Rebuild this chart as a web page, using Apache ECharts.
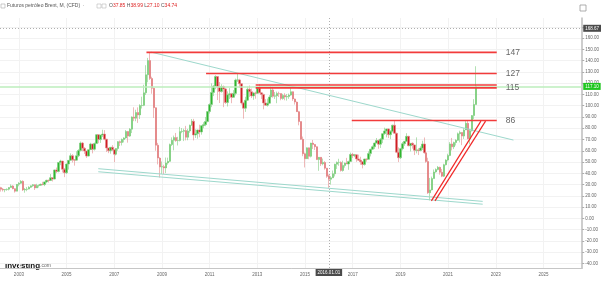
<!DOCTYPE html>
<html><head><meta charset="utf-8">
<script src="https://cdn.jsdelivr.net/npm/echarts@6/dist/echarts.min.js"></script>
<style>html,body{margin:0;padding:0;background:#fff}#c{width:602px;height:282px}</style>
</head><body><div id="c"></div>
<script>
// ---- data (monthly Brent CFD) ----
const months = [
'2002-04','2002-05','2002-06','2002-07','2002-08','2002-09','2002-10','2002-11','2002-12',
'2003-01','2003-02','2003-03','2003-04','2003-05','2003-06','2003-07','2003-08','2003-09','2003-10','2003-11','2003-12',
'2004-01','2004-02','2004-03','2004-04','2004-05','2004-06','2004-07','2004-08','2004-09','2004-10','2004-11','2004-12',
'2005-01','2005-02','2005-03','2005-04','2005-05','2005-06','2005-07','2005-08','2005-09','2005-10','2005-11','2005-12',
'2006-01','2006-02','2006-03','2006-04','2006-05','2006-06','2006-07','2006-08','2006-09','2006-10','2006-11','2006-12',
'2007-01','2007-02','2007-03','2007-04','2007-05','2007-06','2007-07','2007-08','2007-09','2007-10','2007-11','2007-12',
'2008-01','2008-02','2008-03','2008-04','2008-05','2008-06','2008-07','2008-08','2008-09','2008-10','2008-11','2008-12',
'2009-01','2009-02','2009-03','2009-04','2009-05','2009-06','2009-07','2009-08','2009-09','2009-10','2009-11','2009-12',
'2010-01','2010-02','2010-03','2010-04','2010-05','2010-06','2010-07','2010-08','2010-09','2010-10','2010-11','2010-12',
'2011-01','2011-02','2011-03','2011-04','2011-05','2011-06','2011-07','2011-08','2011-09','2011-10','2011-11','2011-12',
'2012-01','2012-02','2012-03','2012-04','2012-05','2012-06','2012-07','2012-08','2012-09','2012-10','2012-11','2012-12',
'2013-01','2013-02','2013-03','2013-04','2013-05','2013-06','2013-07','2013-08','2013-09','2013-10','2013-11','2013-12',
'2014-01','2014-02','2014-03','2014-04','2014-05','2014-06','2014-07','2014-08','2014-09','2014-10','2014-11','2014-12',
'2015-01','2015-02','2015-03','2015-04','2015-05','2015-06','2015-07','2015-08','2015-09','2015-10','2015-11','2015-12',
'2016-01','2016-02','2016-03','2016-04','2016-05','2016-06','2016-07','2016-08','2016-09','2016-10','2016-11','2016-12',
'2017-01','2017-02','2017-03','2017-04','2017-05','2017-06','2017-07','2017-08','2017-09','2017-10','2017-11','2017-12',
'2018-01','2018-02','2018-03','2018-04','2018-05','2018-06','2018-07','2018-08','2018-09','2018-10','2018-11','2018-12',
'2019-01','2019-02','2019-03','2019-04','2019-05','2019-06','2019-07','2019-08','2019-09','2019-10','2019-11','2019-12',
'2020-01','2020-02','2020-03','2020-04','2020-05','2020-06','2020-07','2020-08','2020-09','2020-10','2020-11','2020-12',
'2021-01','2021-02','2021-03','2021-04','2021-05','2021-06','2021-07','2021-08','2021-09','2021-10','2021-11','2021-12',
'2022-01','2022-02','2022-03'];

const open = [
27.3,25.9,25.3,25.6,25.9,27.4,28.8,26.4,24.2,
30.2,31.2,32.9,25.3,25.8,26.0,27.6,28.9,29.9,27.0,29.2,29.4,
30.2,30.0,32.4,33.8,33.6,36.1,34.9,43.0,41.6,49.6,50.9,43.6,
40.5,48.2,51.5,55.6,52.0,51.7,55.6,60.2,66.9,62.2,59.8,55.3,
61.0,66.0,61.4,66.4,74.3,69.9,73.9,74.8,70.3,62.5,60.0,63.1,
60.9,56.9,62.0,68.1,67.4,70.0,71.4,77.1,73.0,79.2,90.0,88.9,
93.9,91.8,100.1,100.3,111.4,127.4,140.0,124.1,115.5,98.2,65.0,53.5,
45.6,45.9,44.8,49.2,50.6,65.5,69.3,71.7,69.0,69.1,77.0,77.3,
77.9,72.0,77.6,82.7,86.2,74.0,75.0,78.4,76.7,82.3,83.2,85.9,
94.8,101.0,111.8,117.4,125.9,116.7,112.5,117.0,114.9,102.8,109.6,110.5,
107.4,110.9,122.7,122.9,119.5,102.4,97.8,104.9,114.6,112.4,108.7,111.2,
111.1,115.6,111.4,110.0,102.4,100.4,102.2,107.7,114.0,108.4,108.8,110.9,
110.8,106.4,109.1,107.8,108.1,109.4,112.4,106.0,103.2,94.7,85.9,70.2,
57.3,53.0,62.6,55.1,66.8,65.6,63.6,52.2,54.2,48.4,49.6,44.6,
37.85,34.74,36.0,39.6,48.1,49.7,49.7,42.5,47.0,49.1,48.3,50.5,
56.8,55.7,56.5,52.8,51.7,50.3,47.9,52.7,52.4,57.5,61.4,63.6,
66.9,69.1,65.8,70.3,75.2,77.6,79.4,74.3,77.4,82.7,75.5,58.7,
53.8,61.9,66.3,68.4,72.8,64.5,66.6,65.2,60.4,60.8,60.2,62.4,
66.0,58.2,50.5,22.7,25.3,35.3,41.2,43.3,45.3,40.9,37.5,47.6,
51.8,55.9,66.1,63.5,67.3,69.3,75.1,76.3,73.0,78.5,84.4,70.6,
77.8,91.2,101.0];

const high = [
28.0,27.0,25.9,26.6,27.7,30.2,29.5,26.7,30.3,
32.2,34.0,33.8,27.0,27.9,28.6,29.2,30.4,30.0,30.7,30.0,30.9,
32.5,32.7,34.3,34.4,39.3,36.4,43.3,45.1,49.9,52.0,51.0,44.7,
48.6,51.7,57.7,57.0,52.4,59.6,61.4,68.2,67.8,63.2,59.9,61.1,
67.1,66.2,67.3,74.9,74.8,74.2,78.7,78.3,70.5,62.6,63.3,65.0,
61.0,62.3,68.6,69.1,70.9,72.0,78.4,77.5,80.1,90.5,98.6,96.4,
98.5,101.3,108.0,118.6,135.9,142.4,147.5,125.7,116.2,98.5,67.0,54.4,
50.5,47.6,54.0,53.9,66.4,71.9,73.5,75.8,72.4,81.2,80.2,79.6,
82.1,79.4,83.2,88.2,88.3,79.0,78.8,83.1,82.6,85.3,90.0,95.0,
102.1,119.8,118.1,127.0,126.2,121.0,119.0,117.9,115.9,112.7,115.6,111.4,
113.8,124.0,128.4,123.9,119.9,103.4,107.9,117.0,117.9,115.2,112.0,112.5,
116.0,119.2,111.8,110.6,105.8,106.3,109.4,117.3,116.8,112.1,112.5,112.4,
110.8,110.5,111.1,110.4,110.8,115.7,112.6,106.4,103.7,95.4,86.0,72.6,
58.4,63.0,62.8,67.1,69.6,66.0,63.9,54.5,54.5,53.1,50.8,44.8,
38.99,37.5,42.5,48.5,50.5,52.9,50.6,51.2,49.5,53.7,51.2,58.4,
58.0,57.2,56.8,56.6,54.7,50.8,52.9,53.0,59.5,61.7,64.7,67.1,
71.3,70.1,71.2,75.5,80.5,79.6,79.9,78.1,83.1,86.7,76.1,63.0,
62.5,67.8,68.7,75.6,73.3,66.8,67.5,65.4,71.9,62.3,64.0,68.9,
71.8,59.8,53.8,35.9,37.1,43.4,44.4,46.5,45.9,43.9,48.5,52.5,
57.4,67.7,71.4,68.1,70.2,76.2,77.8,76.4,80.1,86.7,86.6,79.1,
91.7,105.8,135.0];

const low = [
23.8,23.9,23.2,24.5,24.8,27.3,25.8,22.9,24.1,
28.5,30.6,24.3,22.8,24.1,25.8,27.0,28.0,25.2,27.0,27.4,28.9,
29.4,28.6,31.2,31.8,33.4,32.8,34.6,40.2,40.8,47.2,40.8,36.6,
39.4,43.3,50.9,49.6,46.8,51.4,54.4,59.4,59.6,57.2,53.7,55.0,
60.8,57.7,60.2,66.0,66.7,67.0,72.2,69.4,58.9,57.9,57.4,59.7,
49.9,55.9,60.0,64.2,64.7,67.4,70.6,67.2,72.3,75.7,86.3,86.2,
84.7,88.2,97.5,99.6,109.5,120.8,122.8,110.6,89.1,60.0,47.9,36.2,
39.4,39.3,40.2,47.7,50.1,64.2,60.4,68.0,64.7,68.3,75.6,68.6,
69.2,69.3,76.0,82.1,69.2,71.4,70.7,72.0,74.3,80.0,81.8,85.3,
93.0,98.7,108.5,114.6,105.0,102.4,111.6,98.7,101.5,99.3,105.9,102.2,
107.0,109.1,121.0,115.8,101.0,88.5,94.5,104.2,107.8,106.8,105.2,106.2,
110.3,111.1,106.0,96.8,100.0,99.2,101.9,106.0,107.1,106.0,102.2,107.7,
104.8,105.3,104.8,104.5,106.1,108.7,104.3,101.0,94.6,82.6,69.8,55.2,
45.2,52.7,52.5,54.1,61.6,60.7,51.8,42.2,46.5,47.1,43.2,36.0,
27.10,30.0,35.8,37.2,43.9,46.7,41.5,41.5,45.0,48.3,43.1,50.3,
53.6,54.3,50.2,51.1,47.6,44.4,46.8,50.3,52.2,55.0,60.6,61.5,
66.5,61.8,62.5,66.8,74.1,71.9,71.3,70.3,76.2,74.9,57.9,50.0,
52.7,60.3,64.4,67.8,64.0,59.4,61.9,56.2,57.7,56.2,59.6,60.6,
57.5,49.4,21.7,15.98,24.8,35.2,40.5,42.7,38.8,36.6,36.8,47.0,
50.6,55.2,60.3,61.5,64.7,68.8,67.4,65.0,70.5,78.4,70.2,65.7,
77.1,88.0,100.9];

const close = [
25.9,25.3,25.6,25.9,27.4,28.8,26.4,24.2,30.2,
31.2,32.9,25.3,25.8,26.0,27.6,28.9,29.9,27.0,29.2,29.4,30.2,
30.0,32.4,33.8,33.6,36.1,34.9,43.0,41.6,49.6,50.9,43.6,40.5,
48.2,51.5,55.6,52.0,51.7,55.6,60.2,66.9,62.2,59.8,55.3,61.0,
66.0,61.4,66.4,74.3,69.9,73.9,74.8,70.3,62.5,60.0,63.1,60.9,
56.9,62.0,68.1,67.4,70.0,71.4,77.1,73.0,79.2,90.0,88.9,93.9,
91.8,100.1,100.3,111.4,127.4,140.0,124.1,115.5,98.2,65.0,53.5,45.6,
45.9,44.8,49.2,50.6,65.5,69.3,71.7,69.0,69.1,77.0,77.3,77.9,
72.0,77.6,82.7,86.2,74.0,75.0,78.4,76.7,82.3,83.2,85.9,94.8,
101.0,111.8,117.4,125.9,116.7,112.5,117.0,114.9,102.8,109.6,110.5,107.4,
110.9,122.7,122.9,119.5,102.4,97.8,104.9,114.6,112.4,108.7,111.2,111.1,
115.6,111.4,110.0,102.4,100.4,102.2,107.7,114.0,108.4,108.8,110.9,110.8,
106.4,109.1,107.8,108.1,109.4,112.4,106.0,103.2,94.7,85.9,70.2,57.3,
53.0,62.6,55.1,66.8,65.6,63.6,52.2,54.2,48.4,49.6,44.6,37.3,
34.74,36.0,39.6,48.1,49.7,49.7,42.5,47.0,49.1,48.3,50.5,56.8,
55.7,56.5,52.8,51.7,50.3,47.9,52.7,52.4,57.5,61.4,63.6,66.9,
69.1,65.8,70.3,75.2,77.6,79.4,74.3,77.4,82.7,75.5,58.7,53.8,
61.9,66.3,68.4,72.8,64.5,66.6,65.2,60.4,60.8,60.2,62.4,66.0,
58.2,50.5,22.7,25.3,35.3,41.2,43.3,45.3,40.9,37.5,47.6,51.8,
55.9,66.1,63.5,67.3,69.3,75.1,76.3,73.0,78.5,84.4,70.6,77.8,
91.2,101.0,117.1];

// axis tick labels
const yearTicks = [2003,2005,2007,2009,2011,2013,2015,2017,2019,2021,2023,2025];
const priceTicks = [-40,-30,-20,-10,0,10,20,30,40,50,60,70,80,90,100,110,120,130,140,150,160,170];
const priceLabels = [-40,-30,-20,-10,0,10,20,30,40,50,60,70,80,90,100,110,120,130,140,150,160];

// drawn annotations (decimal year, price)
const levelValues = [147.3, 128.5, 118.3, 115.8, 86.8];
const levelStarts = [2008.35, 2010.85, 2012.93, 2012.93, 2016.96];
const levelEnd = 2023.04;
const levelLabels = ['147', '127', '', '115', '86'];
const tealLines = [
  [[2008.53, 147.6], [2023.74, 69.5]],
  [[2006.33, 44.1], [2022.45, 15.1]],
  [[2006.33, 41.4], [2022.45, 12.6]]
];
const channelLines = [
  [[2020.30, 15.6], [2022.375, 86.3]],
  [[2020.45, 15.6], [2022.57, 86.3]]
];
const lastPrice = 117.1;
const crossMonth = '2016-01';
const crossPrice = 168.67;
const crossDateText = '2016.01.01';
const title = 'Futuros petróleo Brent, M, (CFD)';

// ---- build ----
const xOf = m => { const p = m.split('-').map(Number); return p[0] + (p[1] - 1) / 12; };
const candles = months.map((m, i) => [xOf(m), open[i], close[i], low[i], high[i]]);
const ci = months.indexOf(crossMonth);
const FONT = 'Liberation Sans, Arial, sans-serif';

const series = [{
  type: 'candlestick',
  data: candles,
  barWidth: 2,
  z: 3,
  itemStyle: { color: '#2fb52f', color0: '#cf1d24', borderColor: '#7fcc7f', borderColor0: '#e48a8a', borderWidth: 0.6 },
  markLine: {
    silent: true, symbol: 'none', animation: false,
    data: [
      { yAxis: lastPrice, lineStyle: { color: '#bdeebd', width: 1.5, type: 'solid' },
        label: { show: true, position: 'end', distance: 1, formatter: lastPrice.toFixed(2), color: '#fff', backgroundColor: '#1fc61f', fontSize: 4.5, padding: [1, 2], fontFamily: FONT } },
      { xAxis: xOf(crossMonth), lineStyle: { color: '#9a9a9a', width: 0.8, type: [1, 2] },
        label: { show: true, position: 'start', distance: 1, formatter: crossDateText, color: '#fff', backgroundColor: '#4a4a4a', fontSize: 4.5, padding: [1, 2], fontFamily: FONT } },
      { yAxis: crossPrice, lineStyle: { color: '#9a9a9a', width: 0.8, type: [1, 2] },
        label: { show: true, position: 'end', distance: 1, formatter: crossPrice.toFixed(2), color: '#fff', backgroundColor: '#4a4a4a', fontSize: 4.5, padding: [1, 2], fontFamily: FONT } }
    ]
  }
}];

tealLines.forEach(l => series.push({
  type: 'line', data: l, showSymbol: false, silent: true, z: 4,
  lineStyle: { color: '#9dd8cc', width: 1 }
}));
levelValues.forEach((v, i) => series.push({
  type: 'line', data: [[levelStarts[i], v], [levelEnd, v]], showSymbol: false, silent: true, z: 5,
  lineStyle: { color: '#f23b3b', width: 1.6 },
  endLabel: { show: levelLabels[i] !== '', formatter: levelLabels[i], distance: 9, color: '#666', fontSize: 8.5, fontFamily: FONT }
}));
channelLines.forEach(l => series.push({
  type: 'line', data: l, showSymbol: false, silent: true, z: 5,
  lineStyle: { color: '#f02828', width: 1.2 }
}));

const chart = echarts.init(document.getElementById('c'));
chart.setOption({
  animation: false,
  backgroundColor: '#fff',
  grid: { left: 0, right: 16, top: 18, bottom: 14 },
  xAxis: {
    type: 'value', min: 2002.2083, max: 2026.625,
    axisLine: { show: true, onZero: false, lineStyle: { color: '#c6c6c6', width: 1 } },
    axisTick: { show: false, customValues: yearTicks },
    axisLabel: { customValues: yearTicks, formatter: v => String(Math.round(v)), fontSize: 4.5, color: '#666', margin: 4, fontFamily: FONT },
    splitLine: { show: true, lineStyle: { color: '#f2f2f2', width: 1 } }
  },
  yAxis: {
    type: 'value', position: 'right', min: -44, max: 177.8,
    axisLine: { show: true, onZero: false, lineStyle: { color: '#bdbdbd', width: 1.5 } },
    axisTick: { show: true, length: 2, customValues: priceTicks, lineStyle: { color: '#aaa' } },
    axisLabel: { customValues: priceLabels, formatter: v => v.toFixed(2), fontSize: 4.5, color: '#666', margin: 3, fontFamily: FONT },
    splitLine: { show: true, lineStyle: { color: '#f2f2f2', width: 1 } }
  },
  series: series,
  graphic: [
    { type: 'rect', shape: { x: 1, y: 4, width: 4, height: 4 }, style: { fill: '#fff', stroke: '#aaa', lineWidth: 0.6 } },
    { type: 'text', x: 7, y: 6, style: { text: title + '  \u00b7', fontSize: 5, fill: '#555', verticalAlign: 'middle', fontFamily: FONT } },
    { type: 'rect', shape: { x: 97, y: 4, width: 4, height: 4 }, style: { fill: '#fff', stroke: '#bbb', lineWidth: 0.6 } },
    { type: 'rect', shape: { x: 102, y: 4, width: 4, height: 4 }, style: { fill: '#fff', stroke: '#bbb', lineWidth: 0.6 } },
    { type: 'text', x: 109, y: 6, style: {
        text: '{g|O}{r|' + open[ci].toFixed(2) + '} {g|H}{r|' + high[ci].toFixed(2) + '} {g|L}{r|' + low[ci].toFixed(2) + '} {g|C}{r|' + close[ci].toFixed(2) + '}',
        verticalAlign: 'middle', fontFamily: FONT, fontSize: 5,
        rich: { g: { fill: '#555', fontSize: 5, fontFamily: FONT }, r: { fill: '#d22', fontSize: 5, fontFamily: FONT } } } },
    { type: 'rect', shape: { x: 580, y: 5, width: 6, height: 6 }, style: { fill: '#fff', stroke: '#999', lineWidth: 0.8 } },
    { type: 'text', x: 5, y: 266, style: {
        text: '{b|Investing}{s|.com}', verticalAlign: 'middle', fontFamily: FONT,
        rich: { b: { fontSize: 8, fontWeight: 'bold', fill: '#111', fontFamily: FONT }, s: { fontSize: 5, fill: '#666', fontFamily: FONT } } } }
  ]
});
</script></body></html>
